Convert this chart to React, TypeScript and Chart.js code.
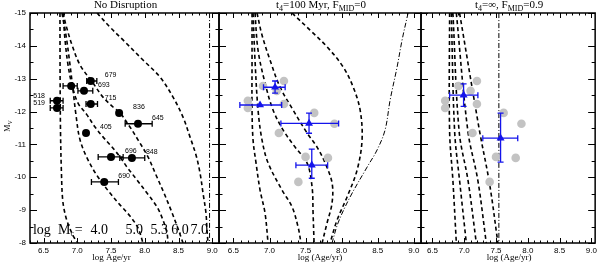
import React, { useEffect, useRef } from "react";
import { Chart, registerables } from "chart.js";

Chart.register(...registerables);

// ---------------- data ----------------
// observed clusters (the same 12 clusters are shown in every panel)
const clusterIds = ["679", "693", "", "715", "518", "519", "836", "645", "405", "696", "848", "690"];
const clusterLogAge = [7.2, 7.1, 6.91, 7.2, 6.7, 6.7, 7.62, 7.9, 7.13, 7.5, 7.81, 7.4];
const clusterMv = [-12.93, -12.63, -12.78, -12.23, -12.33, -12.11, -11.96, -11.63, -11.35, -10.62, -10.59, -9.86];
const clusterAgeErrLo = [0.06, 0.09, 0.12, 0.07, 0.1, 0.1, 0, 0.19, 0, 0.19, 0.18, 0.19];
const clusterAgeErrHi = [0.09, 0.13, 0.09, 0.1, 0.09, 0.09, 0, 0.21, 0, 0.18, 0.19, 0.21];

// axis ticks
const xTickValues = [6.5, 7.0, 7.5, 8.0, 8.5, 9.0];
const yTickValues = [-15, -14, -13, -12, -11, -10, -9, -8];

// panel 1 tracks (No Disruption), log Mc = 4.0, 5.0, 5.3, 6.0, 7.0
const p1Track40Age = [6.744, 6.746, 6.752, 6.765, 6.785, 6.83, 6.89, 6.95, 7.01];
const p1Track40Mv = [-15, -13, -11.4, -10.2, -9.3, -8.8, -8.45, -8.18, -8.0];
const p1Track50Age = [6.774, 6.833, 6.893, 6.937, 6.981, 7.041, 7.159, 7.307, 7.485, 7.633, 7.781, 7.9, 7.974];
const p1Track50Mv = [-15, -14.33, -13.42, -12.66, -11.9, -11.14, -10.53, -10.01, -9.52, -9.16, -8.82, -8.46, -8.0];
const p1Track53Age = [6.789, 6.819, 6.863, 6.922, 7.011, 7.144, 7.263, 7.381, 7.515, 7.633, 7.737, 7.885, 8.033, 8.181, 8.27, 8.33, 8.344];
const p1Track53Mv = [-15, -14.18, -13.42, -12.81, -12.26, -11.9, -11.53, -11.23, -10.92, -10.62, -10.31, -9.92, -9.52, -9.1, -8.7, -8.3, -8.0];
const p1Track60Age = [6.789, 6.833, 6.922, 7.041, 7.233, 7.381, 7.53, 7.633, 7.781, 7.9, 8.048, 8.167, 8.285, 8.389, 8.478, 8.567];
const p1Track60Mv = [-15, -14.63, -14.03, -13.42, -12.87, -12.44, -12.14, -11.96, -11.53, -11.14, -10.62, -10.07, -9.52, -9.0, -8.52, -8.0];
const p1Track70Age = [7.293, 7.485, 7.678, 7.974, 8.226, 8.419, 8.567, 8.67, 8.759, 8.819, 8.863, 8.907, 8.922, 8.937];
const p1Track70Mv = [-15, -14.57, -14.18, -13.57, -13.05, -12.44, -11.83, -11.23, -10.68, -10.13, -9.52, -8.91, -8.4, -8.0];
const p1LimitAge = [8.96, 8.96];
const p1LimitMv = [-15, -8];
const massLabels = ["4.0", "5.0", "5.3", "6.0", "7.0"];

// panel 2 tracks (t4 = 100 Myr, F_MID = 0)
const p2TrackAAge = [6.758, 6.758, 6.758, 6.772, 6.813, 6.869, 6.938, 6.98];
const p2TrackAMv = [-15, -13.57, -12.05, -11.14, -10.44, -9.61, -8.91, -8.0];
const p2TrackBAge = [6.772, 6.799, 6.841, 6.896, 6.98, 7.174, 7.312, 7.396, 7.437];
const p2TrackBMv = [-15, -13.57, -12.05, -11.14, -10.44, -9.61, -9.1, -8.49, -8.0];
const p2TrackCAge = [6.799, 6.841, 6.938, 7.049, 7.188, 7.354, 7.52, 7.59, 7.604, 7.618];
const p2TrackCMv = [-15, -13.87, -12.87, -12.05, -11.44, -10.92, -10.44, -9.71, -8.91, -8.0];
const p2TrackDAge = [6.827, 6.896, 7.007, 7.146, 7.326, 7.52, 7.659, 7.77, 7.867, 7.867, 7.798, 7.729];
const p2TrackDMv = [-15, -14.33, -13.57, -12.75, -12.05, -11.35, -10.92, -10.44, -9.83, -9.22, -8.61, -8.0];
const p2TrackEAge = [7.312, 7.562, 7.798, 8.02, 8.159, 8.256, 8.283, 8.214, 8.075, 7.937, 7.84];
const p2TrackEMv = [-15, -14.48, -13.97, -13.36, -12.75, -12.05, -11.14, -10.22, -9.4, -8.7, -8.0];
const p2LimitAge = [8.921, 8.838, 8.769, 8.672, 8.602, 8.491, 8.353, 8.117, 7.95, 7.867];
const p2LimitMv = [-15, -14.18, -13.36, -12.35, -11.44, -10.83, -10.31, -9.4, -8.61, -8.0];
// panel 2 binned model points
const p2BinAge = [7.077, 6.869, 7.548, 7.586];
const p2BinMv = [-12.74, -12.2, -11.64, -10.37];
const p2BinAgeErrLo = [0.16, 0.28, 0.39, 0.22];
const p2BinAgeErrHi = [0.14, 0.3, 0.41, 0.22];
const p2BinMvErrUp = [0.19, 0, 0.31, 0.49];
const p2BinMvErrDown = [0.18, 0, 0.3, 0.4];

// panel 3 tracks (t4 = inf, F_MID = 0.9)
const p3TrackAAge = [6.77, 6.77, 6.822, 6.876];
const p3TrackAMv = [-15, -11.4, -9.9, -8.0];
const p3TrackBAge = [6.797, 6.849, 6.927, 7.033];
const p3TrackBMv = [-15, -11.4, -9.9, -8.0];
const p3TrackCAge = [6.822, 6.92, 7.06, 7.19];
const p3TrackCMv = [-15, -11.4, -9.9, -8.0];
const p3TrackDAge = [6.876, 7.058, 7.215, 7.347];
const p3TrackDMv = [-15, -11.4, -9.9, -8.0];
const p3TrackEAge = [6.927, 7.242, 7.399, 7.53];
const p3TrackEMv = [-15, -11.4, -9.8, -8.0];
const p3LimitAge = [7.545, 7.545];
const p3LimitMv = [-15, -8];
// panel 3 binned model points
const p3BinAge = [6.99, 7.572];
const p3BinMv = [-12.5, -11.19];
const p3BinAgeErrLo = [0.22, 0.28];
const p3BinAgeErrHi = [0.225, 0.27];
const p3BinMvErrUp = [0.34, 0.76];
const p3BinMvErrDown = [0.34, 0.73];

// ---------------- layout / style ----------------
const W = 600;
const H = 266;
const PLOT_TOP = 13;
const X_AXIS_H = 23;
const SERIF = '"Liberation Serif", "DejaVu Serif", serif';
const SANS = '"Liberation Sans", Arial, sans-serif';
const DASH = [4, 3];
const DASHDOT = [5, 2, 1, 2];
const BLUE = "rgb(20,20,235)";
const GRAY = "rgb(195,195,195)";
const LEFT_LABELS = new Set(["518", "519"]);
const MASS_LABEL_RIGHT_AGE = [7.456, 7.974, 8.344, 8.651, 8.937];

type Part = { t: string; sub?: boolean };

function drawParts(ctx: CanvasRenderingContext2D, parts: Part[], x: number, y: number, size: number, family: string, align: "left" | "center" | "right", subScale = 0.7) {
  const subSize = Math.round(size * subScale);
  const widths = parts.map((p) => {
    ctx.font = `${p.sub ? subSize : size}px ${family}`;
    return ctx.measureText(p.t).width;
  });
  const total = widths.reduce((a, b) => a + b, 0);
  let cx = align === "center" ? x - total / 2 : align === "right" ? x - total : x;
  ctx.textAlign = "left";
  ctx.textBaseline = "middle";
  parts.forEach((p, i) => {
    ctx.font = `${p.sub ? subSize : size}px ${family}`;
    ctx.fillText(p.t, cx, p.sub ? y + size * 0.3 : y);
    cx += widths[i];
  });
}

const track = (age: number[], mv: number[], dash: number[], width = 1.6) => ({
  data: age.map((a, i) => ({ x: a, y: mv[i] })),
  showLine: true,
  pointRadius: 0,
  borderColor: "#000",
  backgroundColor: "#000",
  borderWidth: width,
  borderDash: dash,
  tension: 0.35,
  fill: false,
  order: 3,
});

const clusterPoints = (color: string, withErr: boolean) => ({
  data: clusterLogAge.map((a, i) => ({ x: a, y: clusterMv[i] })),
  pointRadius: withErr ? 4 : 4.3,
  pointStyle: "circle",
  backgroundColor: color,
  borderColor: color,
  borderWidth: 0,
  order: withErr ? 0 : 1,
  ...(withErr ? { xErrLo: clusterAgeErrLo, xErrHi: clusterAgeErrHi, errColor: "#000" } : {}),
});

const binPoints = (age: number[], mv: number[], xl: number[], xh: number[], yu: number[], yd: number[]) => ({
  data: age.map((a, i) => ({ x: a, y: mv[i] })),
  pointRadius: 4.6,
  pointStyle: "triangle",
  backgroundColor: BLUE,
  borderColor: BLUE,
  borderWidth: 0,
  order: 0,
  xErrLo: xl,
  xErrHi: xh,
  yErrUp: yu,
  yErrDown: yd,
  errColor: BLUE,
});

const errorBarPlugin = {
  id: "errbars",
  beforeDatasetDraw(chart: any, args: any) {
    const ds = chart.data.datasets[args.index];
    if (!ds.xErrLo && !ds.yErrUp) return;
    const ctx: CanvasRenderingContext2D = chart.ctx;
    const xs = chart.scales.x;
    const ys = chart.scales.y;
    const cap = 3;
    ctx.save();
    ctx.strokeStyle = ds.errColor;
    ctx.lineWidth = 1.3;
    ctx.setLineDash([]);
    ctx.beginPath();
    ds.data.forEach((p: any, i: number) => {
      const px = xs.getPixelForValue(p.x);
      const py = ys.getPixelForValue(p.y);
      const lo = ds.xErrLo ? ds.xErrLo[i] : 0;
      const hi = ds.xErrHi ? ds.xErrHi[i] : 0;
      if (lo || hi) {
        const x1 = xs.getPixelForValue(p.x - lo);
        const x2 = xs.getPixelForValue(p.x + hi);
        ctx.moveTo(x1, py); ctx.lineTo(x2, py);
        ctx.moveTo(x1, py - cap); ctx.lineTo(x1, py + cap);
        ctx.moveTo(x2, py - cap); ctx.lineTo(x2, py + cap);
      }
      const up = ds.yErrUp ? ds.yErrUp[i] : 0;
      const dn = ds.yErrDown ? ds.yErrDown[i] : 0;
      if (up || dn) {
        const y1 = ys.getPixelForValue(p.y - up);
        const y2 = ys.getPixelForValue(p.y + dn);
        ctx.moveTo(px, y1); ctx.lineTo(px, y2);
        ctx.moveTo(px - cap, y1); ctx.lineTo(px + cap, y1);
        ctx.moveTo(px - cap, y2); ctx.lineTo(px + cap, y2);
      }
    });
    ctx.stroke();
    ctx.restore();
  },
};

interface PanelSpec {
  left: number;
  right: number;
  xmin: number;
  xmax: number;
  yLabels: boolean;
  title: Part[];
  xTitle: string;
  xTitleShift: number;
  datasets: any[];
  extra?: (chart: any) => void;
}

function framePlugin(p: PanelSpec) {
  return {
    id: "frame",
    afterDraw(chart: any) {
      const ctx: CanvasRenderingContext2D = chart.ctx;
      const a = chart.chartArea;
      const xs = chart.scales.x;
      const ys = chart.scales.y;
      ctx.save();
      ctx.setLineDash([]);
      ctx.strokeStyle = "#000";
      ctx.fillStyle = "#000";
      ctx.lineWidth = 1;
      ctx.beginPath();
      for (let k = Math.ceil(p.xmin * 10 - 1e-9); k <= Math.floor(p.xmax * 10 + 1e-9); k++) {
        const px = Math.round(xs.getPixelForValue(k / 10)) + 0.5;
        const len = k % 5 === 0 ? 5 : 2.5;
        ctx.moveTo(px, a.bottom); ctx.lineTo(px, a.bottom - len);
        ctx.moveTo(px, a.top); ctx.lineTo(px, a.top + len);
      }
      for (let k = -30; k <= -16; k++) {
        const py = Math.round(ys.getPixelForValue(k / 2)) + 0.5;
        const len = k % 2 === 0 ? 7 : 3.5;
        ctx.moveTo(a.left, py); ctx.lineTo(a.left + len, py);
        ctx.moveTo(a.right, py); ctx.lineTo(a.right - len, py);
      }
      ctx.stroke();
      ctx.lineWidth = 1.5;
      ctx.strokeRect(a.left, a.top, a.right - a.left, a.bottom - a.top);

      drawParts(ctx, p.title, (a.left + a.right) / 2 + 1, 5.5, 11, SERIF, "center");
      drawParts(ctx, [{ t: p.xTitle }], (a.left + a.right) / 2 + p.xTitleShift, 258, 9, SERIF, "center");
      if (p.extra) p.extra(chart);
      ctx.restore();
    },
  };
}

function panel1Extra(chart: any) {
  const ctx: CanvasRenderingContext2D = chart.ctx;
  const xs = chart.scales.x;
  const ys = chart.scales.y;
  ctx.fillStyle = "#000";
  // cluster ids
  clusterIds.forEach((id, i) => {
    if (!id) return;
    const px = xs.getPixelForValue(clusterLogAge[i]);
    const py = ys.getPixelForValue(clusterMv[i]);
    if (LEFT_LABELS.has(id)) drawParts(ctx, [{ t: id }], px - 12, py - 5, 7, SANS, "right");
    else drawParts(ctx, [{ t: id }], px + 14, py - 6, 7, SANS, "left");
  });
  // mass labels
  const yText = ys.getPixelForValue(-8.4);
  drawParts(ctx, [{ t: "log" }], xs.getPixelForValue(6.344), yText, 14, SERIF, "left");
  drawParts(ctx, [{ t: "M" }, { t: "c", sub: true }], xs.getPixelForValue(6.715), yText, 14, SERIF, "left", 0.6);
  drawParts(ctx, [{ t: "=" }], xs.getPixelForValue(7.02), yText, 14, SERIF, "center");
  massLabels.forEach((m, i) => {
    drawParts(ctx, [{ t: m }], xs.getPixelForValue(MASS_LABEL_RIGHT_AGE[i]), yText, 14, SERIF, "right");
  });
  // y title
  ctx.save();
  ctx.translate(8, 126);
  ctx.rotate(-Math.PI / 2);
  drawParts(ctx, [{ t: "M" }, { t: "V", sub: true }], 0, 0, 8, SERIF, "center");
  ctx.restore();
}

const panels: PanelSpec[] = [
  {
    left: 30,
    right: 219,
    xmin: 6.3,
    xmax: 9.1,
    yLabels: true,
    title: [{ t: "No Disruption" }],
    xTitle: "log Age/yr",
    xTitleShift: -13,
    datasets: [
      clusterPoints("#000", true),
      track(p1Track40Age, p1Track40Mv, DASH),
      track(p1Track50Age, p1Track50Mv, DASH),
      track(p1Track53Age, p1Track53Mv, DASH),
      track(p1Track60Age, p1Track60Mv, DASH),
      track(p1Track70Age, p1Track70Mv, DASH),
      track(p1LimitAge, p1LimitMv, DASHDOT, 1),
    ],
    extra: panel1Extra,
  },
  {
    left: 219,
    right: 421,
    xmin: 6.3,
    xmax: 9.1,
    yLabels: false,
    title: [{ t: "t" }, { t: "4", sub: true }, { t: "=100 Myr, F" }, { t: "MID", sub: true }, { t: "=0" }],
    xTitle: "log (Age/yr)",
    xTitleShift: 0,
    datasets: [
      binPoints(p2BinAge, p2BinMv, p2BinAgeErrLo, p2BinAgeErrHi, p2BinMvErrUp, p2BinMvErrDown),
      clusterPoints(GRAY, false),
      track(p2TrackAAge, p2TrackAMv, DASH),
      track(p2TrackBAge, p2TrackBMv, DASH),
      track(p2TrackCAge, p2TrackCMv, DASH),
      track(p2TrackDAge, p2TrackDMv, DASH),
      track(p2TrackEAge, p2TrackEMv, DASH),
      track(p2LimitAge, p2LimitMv, DASHDOT, 1),
    ],
  },
  {
    left: 421,
    right: 596,
    xmin: 6.32,
    xmax: 9.06,
    yLabels: false,
    title: [{ t: "t" }, { t: "4", sub: true }, { t: "=\u221E, F" }, { t: "MID", sub: true }, { t: "=0.9" }],
    xTitle: "log (Age/yr)",
    xTitleShift: 1,
    datasets: [
      binPoints(p3BinAge, p3BinMv, p3BinAgeErrLo, p3BinAgeErrHi, p3BinMvErrUp, p3BinMvErrDown),
      clusterPoints(GRAY, false),
      track(p3TrackAAge, p3TrackAMv, DASH),
      track(p3TrackBAge, p3TrackBMv, DASH),
      track(p3TrackCAge, p3TrackCMv, DASH),
      track(p3TrackDAge, p3TrackDMv, DASH),
      track(p3TrackEAge, p3TrackEMv, DASH),
      track(p3LimitAge, p3LimitMv, DASHDOT, 1),
    ],
  },
];

function buildConfig(p: PanelSpec): any {
  return {
    type: "scatter",
    data: { datasets: p.datasets },
    options: {
      animation: false,
      responsive: false,
      devicePixelRatio: 1,
      events: [],
      layout: { padding: { left: p.yLabels ? 0 : p.left, right: W - p.right, top: PLOT_TOP, bottom: 0 } },
      plugins: { legend: { display: false }, tooltip: { enabled: false } },
      scales: {
        x: {
          type: "linear",
          min: p.xmin,
          max: p.xmax,
          grid: { display: false, drawTicks: false },
          border: { display: false },
          afterBuildTicks: (s: any) => {
            s.ticks = xTickValues.map((v) => ({ value: v }));
          },
          ticks: {
            font: { family: SANS, size: 8 },
            color: "#000",
            padding: 3,
            maxRotation: 0,
            autoSkip: false,
            callback: (v: any) => Number(v).toFixed(1),
          },
          afterFit: (s: any) => {
            s.height = X_AXIS_H;
          },
        },
        y: {
          type: "linear",
          display: p.yLabels,
          min: -15,
          max: -8,
          reverse: true,
          grid: { display: false, drawTicks: false },
          border: { display: false },
          afterBuildTicks: (s: any) => {
            s.ticks = yTickValues.map((v) => ({ value: v }));
          },
          ticks: {
            font: { family: SANS, size: 8 },
            color: "#000",
            padding: 4,
            autoSkip: false,
            callback: (v: any) => String(v),
          },
          afterFit: (s: any) => {
            s.width = p.yLabels ? p.left : 0;
          },
        },
      },
    },
    plugins: [errorBarPlugin, framePlugin(p)],
  };
}

function PanelCanvas({ spec }: { spec: PanelSpec }) {
  const ref = useRef<HTMLCanvasElement>(null);
  useEffect(() => {
    const chart = new Chart(ref.current as HTMLCanvasElement, buildConfig(spec));
    return () => chart.destroy();
  }, [spec]);
  return (
    <canvas
      ref={ref}
      width={W}
      height={H}
      style={{ position: "absolute", left: 0, top: 0, width: W, height: H }}
    />
  );
}

export default function App() {
  return (
    <div style={{ position: "fixed", left: 0, top: 0, width: W, height: H, background: "#fff" }}>
      {panels.map((p, i) => (
        <PanelCanvas key={i} spec={p} />
      ))}
    </div>
  );
}
